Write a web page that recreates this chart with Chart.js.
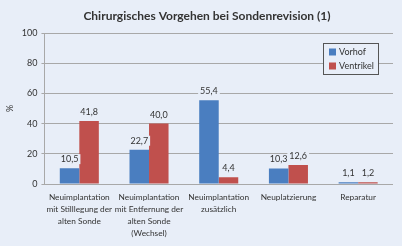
<!DOCTYPE html>
<html><head><meta charset="utf-8">
<script src="https://cdn.jsdelivr.net/npm/chart.js@4/dist/chart.umd.min.js"></script>
<style>html,body{margin:0;padding:0;background:#e8eef8;}#w{width:402px;height:246px;}</style>
</head><body><div id="w"><canvas id="c"></canvas></div>
<script>
const categories = [
  ["Neuimplantation","mit Stilllegung der","alten Sonde"],
  ["Neuimplantation","mit Entfernung der","alten Sonde","(Wechsel)"],
  ["Neuimplantation","zusätzlich"],
  ["Neuplatzierung"],
  ["Reparatur"]
];
const vorhof = [10.5, 22.7, 55.4, 10.3, 1.1];
const ventrikel = [41.8, 40.0, 4.4, 12.6, 1.2];
const seriesNames = ["Vorhof", "Ventrikel"];
const yTicks = [0, 20, 40, 60, 80, 100];
const titleText = "Chirurgisches Vorgehen bei Sondenrevision (1)";

const FONT = "Lato";
const BG = "#e8eef8";

const titlePlugin = {
  id: 'ttl',
  afterDraw(chart) {
    const ctx = chart.ctx;
    ctx.save();
    ctx.font = "bold 12px " + FONT;
    ctx.fillStyle = "#333";
    ctx.textAlign = "center";
    ctx.textBaseline = "middle";
    ctx.fillText(titleText, 207, 16);
    ctx.restore();
  }
};

const labelPlugin = {
  id: 'vals',
  afterDatasetsDraw(chart) {
    const ctx = chart.ctx;
    ctx.save();
    ctx.font = "9px " + FONT;
    ctx.textAlign = "center";
    ctx.textBaseline = "middle";
    chart.data.datasets.forEach((ds, di) => {
      chart.getDatasetMeta(di).data.forEach((bar, i) => {
        const t = ds.data[i].toFixed(1).replace('.', ',');
        const w = ctx.measureText(t).width;
        const y = bar.y - 9;
        ctx.fillStyle = BG;
        ctx.fillRect(bar.x - w/2 - 2, y - 5, w + 4, 10);
        ctx.fillStyle = "#333";
        ctx.fillText(t, bar.x, y);
      });
    });
    ctx.restore();
  }
};

const legendPlugin = {
  id: 'boxlegend',
  afterDraw(chart) {
    const ctx = chart.ctx;
    const a = chart.chartArea;
    const x0 = a.right - 70, y0 = a.top + 10, w = 55, h = 31;
    ctx.save();
    ctx.fillStyle = BG;
    ctx.fillRect(x0, y0, w, h);
    ctx.strokeStyle = "#555";
    ctx.lineWidth = 1;
    ctx.strokeRect(x0 + 0.5, y0 + 0.5, w, h);
    ctx.font = "9px " + FONT;
    ctx.textBaseline = "middle";
    chart.data.datasets.forEach((ds, i) => {
      const cy = y0 + 9 + i * 14;
      ctx.fillStyle = ds.backgroundColor;
      ctx.fillRect(x0 + 6, cy - 3.5, 7, 7);
      ctx.fillStyle = "#333";
      ctx.fillText(ds.label, x0 + 16, cy);
    });
    ctx.restore();
  }
};

new Chart(document.getElementById('c'), {
  type: 'bar',
  data: {
    labels: categories,
    datasets: [
      { label: seriesNames[0], data: vorhof, backgroundColor: "#4a7ec0" },
      { label: seriesNames[1], data: ventrikel, backgroundColor: "#c0504d" }
    ]
  },
  options: {
    responsive: true,
    maintainAspectRatio: false,
    animation: false,
    devicePixelRatio: 1,
    layout: { padding: { left: 3, right: 9, top: 33, bottom: 0 } },
    plugins: {
      legend: { display: false },
      tooltip: { enabled: false },
      title: { display: false }
    },
    datasets: { bar: { categoryPercentage: 0.56, barPercentage: 1 } },
    scales: {
      x: {
        grid: { display: false, drawTicks: false },
        border: { display: false },
        ticks: { color: "#333", font: { family: FONT, size: 8.3, lineHeight: "12px" }, maxRotation: 0, autoSkip: false, padding: 7 }
      },
      y: {
        min: 0, max: 100,
        afterBuildTicks(s) { s.ticks = yTicks.map(v => ({ value: v })); },
        grid: { color: "#a8a8a8", lineWidth: 1, drawTicks: true, tickLength: 3 },
        border: { display: true, color: "#a8a8a8" },
        ticks: { color: "#333", font: { family: FONT, size: 9 }, padding: 4 },
        title: { display: true, text: "%", color: "#333", font: { family: FONT, size: 9 }, padding: 2 }
      }
    }
  },
  plugins: [labelPlugin, legendPlugin, titlePlugin]
});
</script></body></html>
